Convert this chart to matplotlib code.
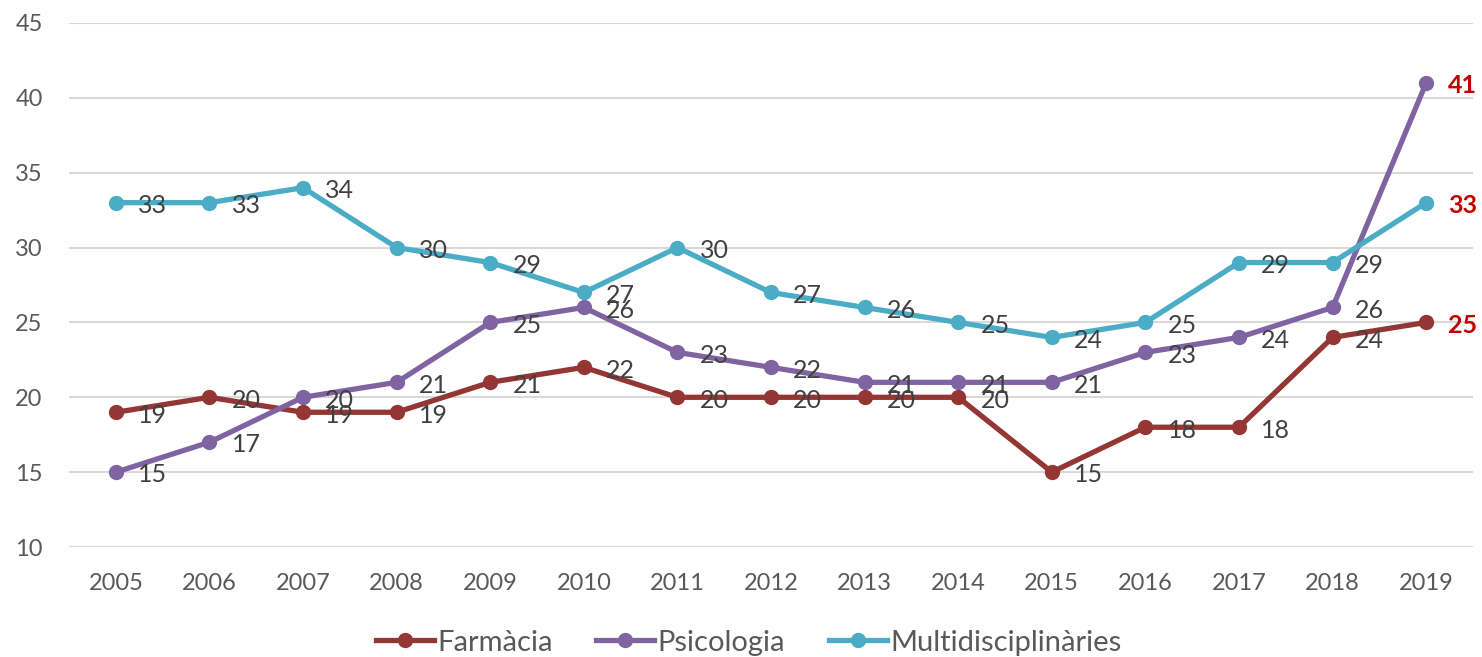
import matplotlib.pyplot as plt
import numpy as np

plt.rcParams['font.family'] = ['Lato', 'DejaVu Sans']

years = ['2005', '2006', '2007', '2008', '2009', '2010', '2011', '2012',
         '2013', '2014', '2015', '2016', '2017', '2018', '2019']
farmacia = [19, 20, 19, 19, 21, 22, 20, 20, 20, 20, 15, 18, 18, 24, 25]
psicologia = [15, 17, 20, 21, 25, 26, 23, 22, 21, 21, 21, 23, 24, 26, 41]
multi = [33, 33, 34, 30, 29, 27, 30, 27, 26, 25, 24, 25, 29, 29, 33]

series = [
    ('Farmàcia', farmacia, '#943634'),
    ('Psicologia', psicologia, '#8064A2'),
    ('Multidisciplinàries', multi, '#4BACC6'),
]

fig = plt.figure(figsize=(14.82, 6.57), dpi=100)
ax = fig.add_axes([0.0466, 0.1674, 0.9473, 0.7976])

x = np.arange(len(years))
for name, vals, color in series:
    ax.plot(x, vals, color=color, lw=3.8, marker='o', markersize=10,
            label=name, solid_joinstyle='round')
    # data labels to the right of the points, last one highlighted
    for i, v in enumerate(vals):
        last = i == len(vals) - 1
        ax.annotate(str(v), (x[i], v), textcoords='offset points', xytext=(16, -2),
                    ha='left', va='center', fontsize=18,
                    color='#C00000' if last else '#404040',
                    fontweight='bold' if last else 'normal', annotation_clip=False)

ax.set_xlim(-0.5, len(years) - 0.5)
ax.set_ylim(10, 45)
ax.set_yticks(range(10, 46, 5))
ax.set_xticks(x)
ax.set_xticklabels(years)
ax.tick_params(axis='both', length=0, labelsize=17, labelcolor='#595959')
ax.tick_params(axis='x', pad=19)
ax.tick_params(axis='y', pad=19)
ax.grid(axis='y', color='#D9D9D9', lw=1.5)
ax.set_axisbelow(True)
for s in ax.spines.values():
    s.set_visible(False)

fig.legend(loc='center', bbox_to_anchor=(0.505, 0.022), ncol=3, frameon=False,
           fontsize=21, handlelength=2.0, handletextpad=0.1, columnspacing=1.5,
           labelcolor='#595959')

fig.savefig('out.png', dpi=100)
